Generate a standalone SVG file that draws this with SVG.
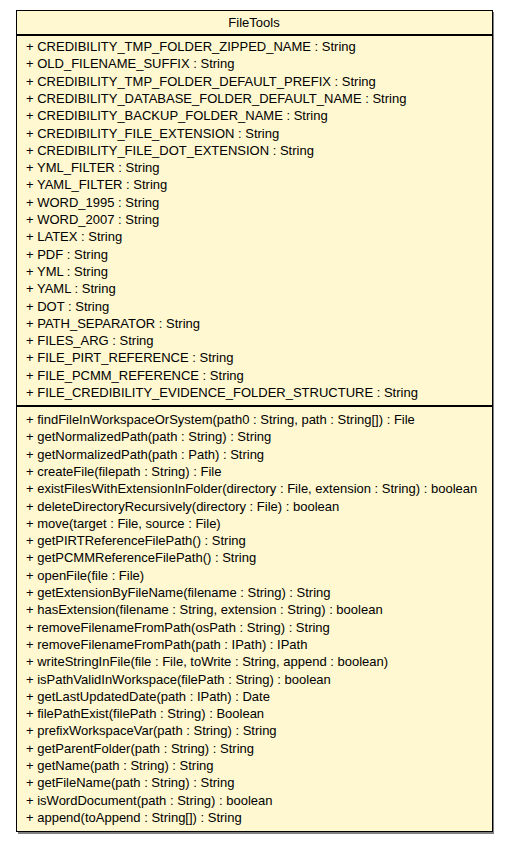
<svg xmlns="http://www.w3.org/2000/svg" width="508" height="843" viewBox="0 0 508 843">
<style>
text{font-family:"Liberation Sans",Arial,sans-serif;font-size:13px;fill:#000}
.t{text-anchor:middle}
.box{fill:#FFF8D0;stroke:#000;stroke-width:1}
.sh{fill:#808080}
.div{stroke:#000;stroke-width:2}
</style>
<rect width="508" height="843" fill="#fff"/>
<g id="FileTools">
<rect class="sh" x="18" y="12" width="476" height="822"/>
<rect class="box" x="16.5" y="10.5" width="476" height="821"/>
<line class="div" x1="17" y1="35" x2="492" y2="35"/>
<line class="div" x1="17" y1="406" x2="492" y2="406"/>
<text class="t" x="254" y="27">FileTools</text>
<g id="attributes">
<text x="26" y="51">+ CREDIBILITY_TMP_FOLDER_ZIPPED_NAME : String</text>
<text x="26" y="68.3">+ OLD_FILENAME_SUFFIX : String</text>
<text x="26" y="85.6">+ CREDIBILITY_TMP_FOLDER_DEFAULT_PREFIX : String</text>
<text x="26" y="102.9">+ CREDIBILITY_DATABASE_FOLDER_DEFAULT_NAME : String</text>
<text x="26" y="120.2">+ CREDIBILITY_BACKUP_FOLDER_NAME : String</text>
<text x="26" y="137.5">+ CREDIBILITY_FILE_EXTENSION : String</text>
<text x="26" y="154.8">+ CREDIBILITY_FILE_DOT_EXTENSION : String</text>
<text x="26" y="172.1">+ YML_FILTER : String</text>
<text x="26" y="189.4">+ YAML_FILTER : String</text>
<text x="26" y="206.7">+ WORD_1995 : String</text>
<text x="26" y="224">+ WORD_2007 : String</text>
<text x="26" y="241.3">+ LATEX : String</text>
<text x="26" y="258.6">+ PDF : String</text>
<text x="26" y="275.9">+ YML : String</text>
<text x="26" y="293.2">+ YAML : String</text>
<text x="26" y="310.5">+ DOT : String</text>
<text x="26" y="327.8">+ PATH_SEPARATOR : String</text>
<text x="26" y="345.1">+ FILES_ARG : String</text>
<text x="26" y="362.4">+ FILE_PIRT_REFERENCE : String</text>
<text x="26" y="379.7">+ FILE_PCMM_REFERENCE : String</text>
<text x="26" y="397">+ FILE_CREDIBILITY_EVIDENCE_FOLDER_STRUCTURE : String</text>
</g>
<g id="methods">
<text x="26" y="424">+ findFileInWorkspaceOrSystem(path0 : String, path : String[]) : File</text>
<text x="26" y="441.3">+ getNormalizedPath(path : String) : String</text>
<text x="26" y="458.6">+ getNormalizedPath(path : Path) : String</text>
<text x="26" y="475.9">+ createFile(filepath : String) : File</text>
<text x="26" y="493.2">+ existFilesWithExtensionInFolder(directory : File, extension : String) : boolean</text>
<text x="26" y="510.5">+ deleteDirectoryRecursively(directory : File) : boolean</text>
<text x="26" y="527.8">+ move(target : File, source : File)</text>
<text x="26" y="545.1">+ getPIRTReferenceFilePath() : String</text>
<text x="26" y="562.4">+ getPCMMReferenceFilePath() : String</text>
<text x="26" y="579.7">+ openFile(file : File)</text>
<text x="26" y="597">+ getExtensionByFileName(filename : String) : String</text>
<text x="26" y="614.3">+ hasExtension(filename : String, extension : String) : boolean</text>
<text x="26" y="631.6">+ removeFilenameFromPath(osPath : String) : String</text>
<text x="26" y="648.9">+ removeFilenameFromPath(path : IPath) : IPath</text>
<text x="26" y="666.2">+ writeStringInFile(file : File, toWrite : String, append : boolean)</text>
<text x="26" y="683.5">+ isPathValidInWorkspace(filePath : String) : boolean</text>
<text x="26" y="700.8">+ getLastUpdatedDate(path : IPath) : Date</text>
<text x="26" y="718.1">+ filePathExist(filePath : String) : Boolean</text>
<text x="26" y="735.4">+ prefixWorkspaceVar(path : String) : String</text>
<text x="26" y="752.7">+ getParentFolder(path : String) : String</text>
<text x="26" y="770">+ getName(path : String) : String</text>
<text x="26" y="787.3">+ getFileName(path : String) : String</text>
<text x="26" y="804.6">+ isWordDocument(path : String) : boolean</text>
<text x="26" y="821.9">+ append(toAppend : String[]) : String</text>
</g>
</g>
</svg>
